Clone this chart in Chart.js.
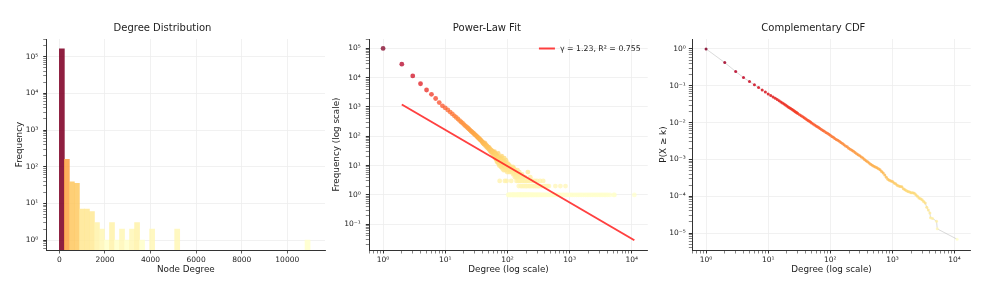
<!DOCTYPE html>
<html>
<head>
<meta charset="utf-8">
<script src="https://cdn.jsdelivr.net/npm/chart.js@4.4.1/dist/chart.umd.min.js"></script>
<style>
  html, body { margin: 0; padding: 0; background: #fff; width: 996px; height: 289px; overflow: hidden; }
  .panel { position: absolute; top: 0; height: 289px; }
</style>
</head>
<body>
<div class="panel" style="left:0;width:330px"><canvas id="hist" width="330" height="289"></canvas></div>
<div class="panel" style="left:326px;width:330px"><canvas id="powerlaw" width="330" height="289"></canvas></div>
<div class="panel" style="left:656px;width:340px"><canvas id="ccdf" width="340" height="289"></canvas></div>
<script>
/* ── Data: degree histogram (50 bins, centres) ───────── */
const histBinCentres = [110, 330, 550, 770, 990, 1210, 1430, 1650, 1870, 2090,
  2310, 2530, 2750, 2970, 3190, 3410, 3630, 3850, 4070, 4290,
  4510, 4730, 4950, 5170, 5390, 5610, 5830, 6050, 6270, 6490,
  6710, 6930, 7150, 7370, 7590, 7810, 8030, 8250, 8470, 8690,
  8910, 9130, 9350, 9570, 9790, 10010, 10230, 10450, 10670, 10890];
const histCounts = [163000, 158, 39, 35, 7, 7, 6, 3, 2, 1,
  3, 1, 2, 1, 2, 3, 1, null, 2, null,
  null, null, null, 2, null, null, null, null, null, null,
  null, null, null, null, null, null, null, null, null, null,
  null, null, null, null, null, null, null, null, null, 1];
const histTicks = [0, 2000, 4000, 6000, 8000, 10000];

/* ── Data: frequency per degree (power-law panel) ───── */
const plDegree = [
  1, 2, 3, 4, 5, 6, 7, 8, 9, 10, 11, 12, 13, 14, 15, 16, 17, 18, 19, 20,
  21, 22, 23, 24, 25, 26, 27, 28, 29, 30, 31, 32, 33, 34, 35, 36, 37, 38, 39, 40,
  41, 42, 43, 44, 45, 46, 47, 48, 49, 50, 51, 52, 53, 54, 55, 56, 57, 58, 59, 60,
  61, 62, 63, 64, 65, 66, 67, 68, 69, 70, 71, 72, 73, 74, 75, 76, 77, 78, 79, 80,
  81, 82, 83, 84, 85, 86, 87, 88, 89, 90, 91, 92, 93, 94, 95, 96, 97, 98, 99, 100,
  101, 102, 104, 106, 108, 110, 112, 114, 115, 116, 118, 120, 122, 124, 126, 128, 130,
  132, 133, 135, 137, 138, 140, 141, 143, 145, 147, 149, 150, 152, 153, 155, 157, 159, 161, 163, 165,
  167, 170, 172, 175, 178, 180, 183, 186, 189, 192, 195, 198, 201, 205, 208, 213, 216, 220, 224, 229,
  233, 238, 243, 249, 255, 262, 268, 275, 283, 290, 298, 306, 315, 324, 335, 346, 358, 376, 390, 405,
  425, 445, 465, 590, 710, 860];
const plCount = [
  100000, 29000, 11500, 6200, 3800, 2700, 1950, 1420, 1100, 930, 790, 670, 580, 500, 440, 390, 345, 310, 280, 252,
  228, 210, 192, 178, 163, 150, 140, 131, 122, 114, 108, 100, 95, 88, 84, 78, 75, 70, 66, 62,
  58, 54, 60, 49, 52, 44, 47, 40, 43, 37, 41, 33, 36, 30, 34, 28, 31, 25, 29, 28,
  22, 30, 19, 26, 17, 24, 15, 22, 13, 20, 26, 12, 18, 10, 3, 17, 11, 19, 9, 15,
  21, 12, 8, 16, 10, 14, 7, 12, 18, 9, 3, 13, 7, 11, 15, 8, 3, 10, 6, 12,
  7, 9, 11, 6, 10, 7, 9, 6, 3, 8, 7, 6, 9, 5, 6, 8, 5,
  4, 7, 5, 6, 4, 3, 5, 4, 7, 3, 5, 4, 2, 3, 6, 4, 3, 5, 2, 3,
  4, 2, 5, 3, 2, 4, 3, 2, 3, 4, 2, 3, 2, 3, 2, 6, 3, 2, 3, 2,
  4, 2, 3, 2, 3, 2, 2, 3, 2, 2, 3, 2, 2, 2, 3, 2, 2, 3, 2, 2,
  2, 2, 2, 2, 2, 2];
// degrees held by exactly one node
const singletonDegrees = [103, 105, 107, 109, 111, 113, 117, 119, 121, 123, 125, 127, 129, 131, 134, 136, 139,
  142, 144, 146, 148, 151, 154, 156, 158, 160, 162, 164, 166, 169, 171, 174, 177, 179, 182, 185,
  188, 191, 194, 197, 200, 203, 207, 211, 215, 218, 222, 227, 231, 236, 241, 246, 252, 258, 265,
  271, 279, 287, 295, 303, 311, 320, 330, 340, 352, 364, 380, 397, 415, 432, 452, 475, 500, 525,
  548, 570, 605, 640, 680, 725, 770, 815, 870, 930, 990, 1050, 1120, 1200, 1290, 1380, 1470, 1570,
  1680, 1800, 1920, 2050, 2190, 2330, 2480, 2640, 2800, 2990, 3180, 3380, 3600, 3820, 4100, 4450,
  5130, 5270, 11000];
const SINGLETON_COUNT = 1;

const fitDegree = [2, 11000];
const fitValue = [1217, 0.0284];
const FIT_LABEL = "γ = 1.23, R² = 0.755";

/* ── Data: complementary CDF ─────────────────────────── */
const ccdfDegree = [1, 2, 3, 4, 5, 6, 7, 8, 9, 10,
  11, 12, 13, 14, 15, 16, 17, 18, 19, 20, 21, 22, 23, 24, 25, 26, 27, 28, 29, 30,
  32, 34, 36, 38, 40, 42, 44, 46, 48, 50, 53, 56, 59, 62, 65, 68, 72, 76, 80, 85, 90, 95, 100,
  106, 112, 118, 125, 132, 140, 148, 157, 166, 176, 187, 198, 210, 223, 236, 250, 265, 281, 298,
  316, 335, 355, 376, 398, 422, 447, 474, 502, 532, 563, 597, 632, 670, 710, 752, 797, 844, 894, 947,
  1003, 1063, 1126, 1193, 1264, 1339, 1419, 1503, 1592, 1687, 1787, 1893, 2005, 2124, 2250, 2384,
  2525, 2675, 2834, 3002, 3181, 3370, 3570, 3782, 4006, 4110, 4420, 5130, 5270, 11000];
const ccdfProb = [1, 0.425, 0.243, 0.167, 0.13, 0.106, 0.089, 0.077, 0.068, 0.06,
  0.0545, 0.0497, 0.0456, 0.0421, 0.039, 0.0363, 0.0339, 0.0318, 0.0299, 0.0282, 0.0267, 0.0253, 0.0241, 0.0229, 0.0219, 0.0209, 0.02, 0.0192, 0.0184, 0.0177,
  0.0164, 0.0153, 0.0143, 0.0135, 0.0127, 0.012, 0.0114, 0.0108, 0.0103, 0.0098, 0.0092, 0.0086, 0.0081, 0.0077, 0.0073, 0.0069, 0.0065, 0.0061, 0.0058, 0.0054, 0.0051, 0.0048, 0.0045,
  0.0042, 0.004, 0.0037, 0.0035, 0.0033, 0.0031, 0.0029, 0.0027, 0.0025, 0.0023, 0.0022, 0.002, 0.0019, 0.00178, 0.00167, 0.00155, 0.00142, 0.00133, 0.00125,
  0.00116, 0.00109, 0.001, 0.00092, 0.00086, 0.0008, 0.00074, 0.00069, 0.00065, 0.00062, 0.00059, 0.00056, 0.00052, 0.00047, 0.00043, 0.00038, 0.00033, 0.00029, 0.00027, 0.00026,
  0.00025, 0.00023, 0.00022, 0.0002, 0.00019, 0.000185, 0.00018, 0.00016, 0.00015, 0.00014, 0.000135, 0.00013, 0.000125, 0.000125, 0.00012, 0.00011,
  0.0001, 0.00009, 0.000085, 0.00008, 0.000072, 0.000066, 0.00005, 0.000042, 0.000035, 0.000026, 0.000025, 0.000021, 0.000013, 0.0000068];

/* ── Style helpers ───────────────────────────────────── */
const TXT = "#222";
const AXIS = "#333";
const GRID = "#eeeeee";
const FIT_COLOR = "rgba(255,30,30,0.85)";
const TICK_FONT = { size: 7.5 };
Chart.defaults.font.family = "'DejaVu Sans', sans-serif";
Chart.defaults.color = TXT;

const YLORRD = ["#ffffcc", "#ffeda0", "#fed976", "#feb24c", "#fd8d3c", "#fc4e2a", "#e31a1c", "#bd0026", "#800026"];
function cmap(t, alpha) {
  t = Math.max(0, Math.min(1, t));
  const p = t * 8, i = Math.min(7, Math.floor(p)), f = p - i;
  const a = YLORRD[i], b = YLORRD[i + 1];
  const ch = k => {
    const u = parseInt(a.substr(1 + 2 * k, 2), 16), v = parseInt(b.substr(1 + 2 * k, 2), 16);
    return Math.round(u + (v - u) * f);
  };
  return `rgba(${ch(0)},${ch(1)},${ch(2)},${alpha})`;
}

const SUP = { "-": "⁻", "0": "⁰", "1": "¹", "2": "²", "3": "³", "4": "⁴", "5": "⁵", "6": "⁶", "7": "⁷", "8": "⁸", "9": "⁹" };
function isDecade(v) { const e = Math.log10(v); return Math.abs(e - Math.round(e)) < 1e-9; }
function isMinor(v) {
  const m = v / Math.pow(10, Math.floor(Math.log10(v) + 1e-9));
  return Math.abs(m - Math.round(m)) < 1e-6;
}
function decadeLabel(v) {
  if (!isDecade(v)) return "";
  return "10" + String(Math.round(Math.log10(v))).split("").map(c => SUP[c]).join("");
}

function fixX(h) { return s => { s.height = h; s.paddingLeft = 0; s.paddingRight = 0; }; }
function fixY(w) { return s => { s.width = w; s.paddingTop = 0; s.paddingBottom = 0; }; }

function logAxis(min, max, title, titlePad, tickPad, fit) {
  return {
    type: "logarithmic", min, max,
    border: { color: AXIS, width: 1 },
    grid: {
      color: c => isDecade(c.tick.value) ? GRID : "rgba(0,0,0,0)",
      tickColor: c => isMinor(c.tick.value) ? AXIS : "rgba(0,0,0,0)",
      tickWidth: c => isDecade(c.tick.value) ? 1 : 0.6,
      tickLength: 3.5,
      lineWidth: 0.8,
    },
    ticks: { autoSkip: false, maxRotation: 0, minRotation: 0, font: TICK_FONT, color: TXT, padding: tickPad,
             callback: v => decadeLabel(v) },
    title: { display: true, text: title, font: { size: 8.8 }, color: TXT, padding: titlePad },
    afterFit: fit,
  };
}

function titleOpts(text) {
  return { display: true, text, font: { size: 10, weight: "normal" }, color: TXT, padding: { top: 0, bottom: 5 } };
}

// legend for the fit line, drawn inside the plot at the top right
const fitLegend = {
  id: "fitLegend",
  afterDraw(chart) {
    const { ctx, chartArea } = chart;
    ctx.save();
    ctx.font = "7.8px 'DejaVu Sans', sans-serif";
    ctx.fillStyle = TXT;
    ctx.textBaseline = "middle";
    ctx.textAlign = "right";
    const y = chartArea.top + 9.5, xr = chartArea.right - 7;
    ctx.fillText(FIT_LABEL, xr, y);
    const w = ctx.measureText(FIT_LABEL).width;
    ctx.strokeStyle = FIT_COLOR;
    ctx.lineWidth = 2;
    ctx.beginPath();
    ctx.moveTo(xr - w - 21, y);
    ctx.lineTo(xr - w - 5, y);
    ctx.stroke();
    ctx.restore();
  }
};

/* ── Panel 1: degree histogram ───────────────────────── */
const histMax = Math.log10(Math.max(...histCounts.filter(v => v)));
new Chart(document.getElementById("hist"), {
  type: "bar",
  data: {
    datasets: [{
      data: histBinCentres.map((x, i) => ({ x, y: histCounts[i] })),
      backgroundColor: histCounts.map(v => v ? cmap(Math.log10(v) / histMax, 0.88) : "transparent"),
      borderWidth: 0,
      barPercentage: 1,
      categoryPercentage: 1,
    }]
  },
  options: {
    responsive: false, animation: false,
    layout: { padding: { left: 0, right: 5, top: 22, bottom: 0 } },
    plugins: { legend: { display: false }, tooltip: { enabled: false }, title: titleOpts("Degree Distribution") },
    scales: {
      x: {
        type: "linear", min: -555, max: 11655, offset: false,
        border: { color: AXIS, width: 1 },
        grid: { color: GRID, lineWidth: 0.8, tickColor: AXIS, tickLength: 3.5, offset: false },
        ticks: { autoSkip: false, maxRotation: 0, font: TICK_FONT, color: TXT, padding: 2, callback: v => String(v) },
        afterBuildTicks: s => { s.ticks = histTicks.map(v => ({ value: v })); },
        title: { display: true, text: "Node Degree", font: { size: 8.8 }, color: TXT, padding: { top: 0, bottom: 14 } },
        afterFit: fixX(39),
      },
      y: logAxis(0.537, 302000, "Frequency", { top: 14, bottom: 0 }, 5, fixY(46.7)),
    }
  }
});

/* ── Panel 2: power-law fit ──────────────────────────── */
const plPoints = plDegree.map((k, i) => ({ x: k, y: plCount[i] }))
  .concat(singletonDegrees.map(k => ({ x: k, y: SINGLETON_COUNT })));
const plMax = Math.log10(Math.max(...plCount));
new Chart(document.getElementById("powerlaw"), {
  type: "scatter",
  data: {
    datasets: [
      {
        type: "line", label: FIT_LABEL,
        data: fitDegree.map((k, i) => ({ x: k, y: fitValue[i] })),
        borderColor: FIT_COLOR, backgroundColor: FIT_COLOR, borderWidth: 2, pointRadius: 0, fill: false,
      },
      {
        label: "observed",
        data: plPoints,
        pointBackgroundColor: plPoints.map(p => cmap(Math.log10(p.y) / plMax, 0.75)),
        pointBorderWidth: 0, pointRadius: 2.4,
      }
    ]
  },
  options: {
    responsive: false, animation: false,
    layout: { padding: { left: 0, right: 8.3, top: 22, bottom: 0 } },
    plugins: { legend: { display: false }, tooltip: { enabled: false }, title: titleOpts("Power-Law Fit") },
    scales: {
      x: logAxis(0.631, 18030, "Degree (log scale)", { top: 0, bottom: 14 }, 2, fixX(39)),
      y: logAxis(0.0132, 209000, "Frequency (log scale)", { top: 5.7, bottom: 0 }, 5, fixY(43.3)),
    }
  },
  plugins: [fitLegend]
});

/* ── Panel 3: complementary CDF ──────────────────────── */
const ccdfPoints = ccdfDegree.map((k, i) => ({ x: k, y: ccdfProb[i] }));
const ccdfMin = Math.log10(Math.min(...ccdfProb));
new Chart(document.getElementById("ccdf"), {
  type: "scatter",
  data: {
    datasets: [{
      data: ccdfPoints,
      showLine: true,
      borderColor: "rgba(150,150,150,0.45)", borderWidth: 0.8,
      pointBackgroundColor: ccdfPoints.map(p => cmap(1 - Math.log10(p.y) / ccdfMin, 0.85)),
      pointBorderWidth: 0, pointRadius: 1.5,
    }]
  },
  options: {
    responsive: false, animation: false,
    layout: { padding: { left: 0, right: 25.3, top: 22, bottom: 0 } },
    plugins: { legend: { display: false }, tooltip: { enabled: false }, title: titleOpts("Complementary CDF") },
    scales: {
      x: logAxis(0.631, 18200, "Degree (log scale)", { top: 0, bottom: 14 }, 2, fixX(39)),
      y: logAxis(0.00000347, 1.86, "P(X ≥ k)", { top: 2.7, bottom: 0 }, 3, fixY(36.3)),
    }
  }
});
</script>
</body>
</html>
